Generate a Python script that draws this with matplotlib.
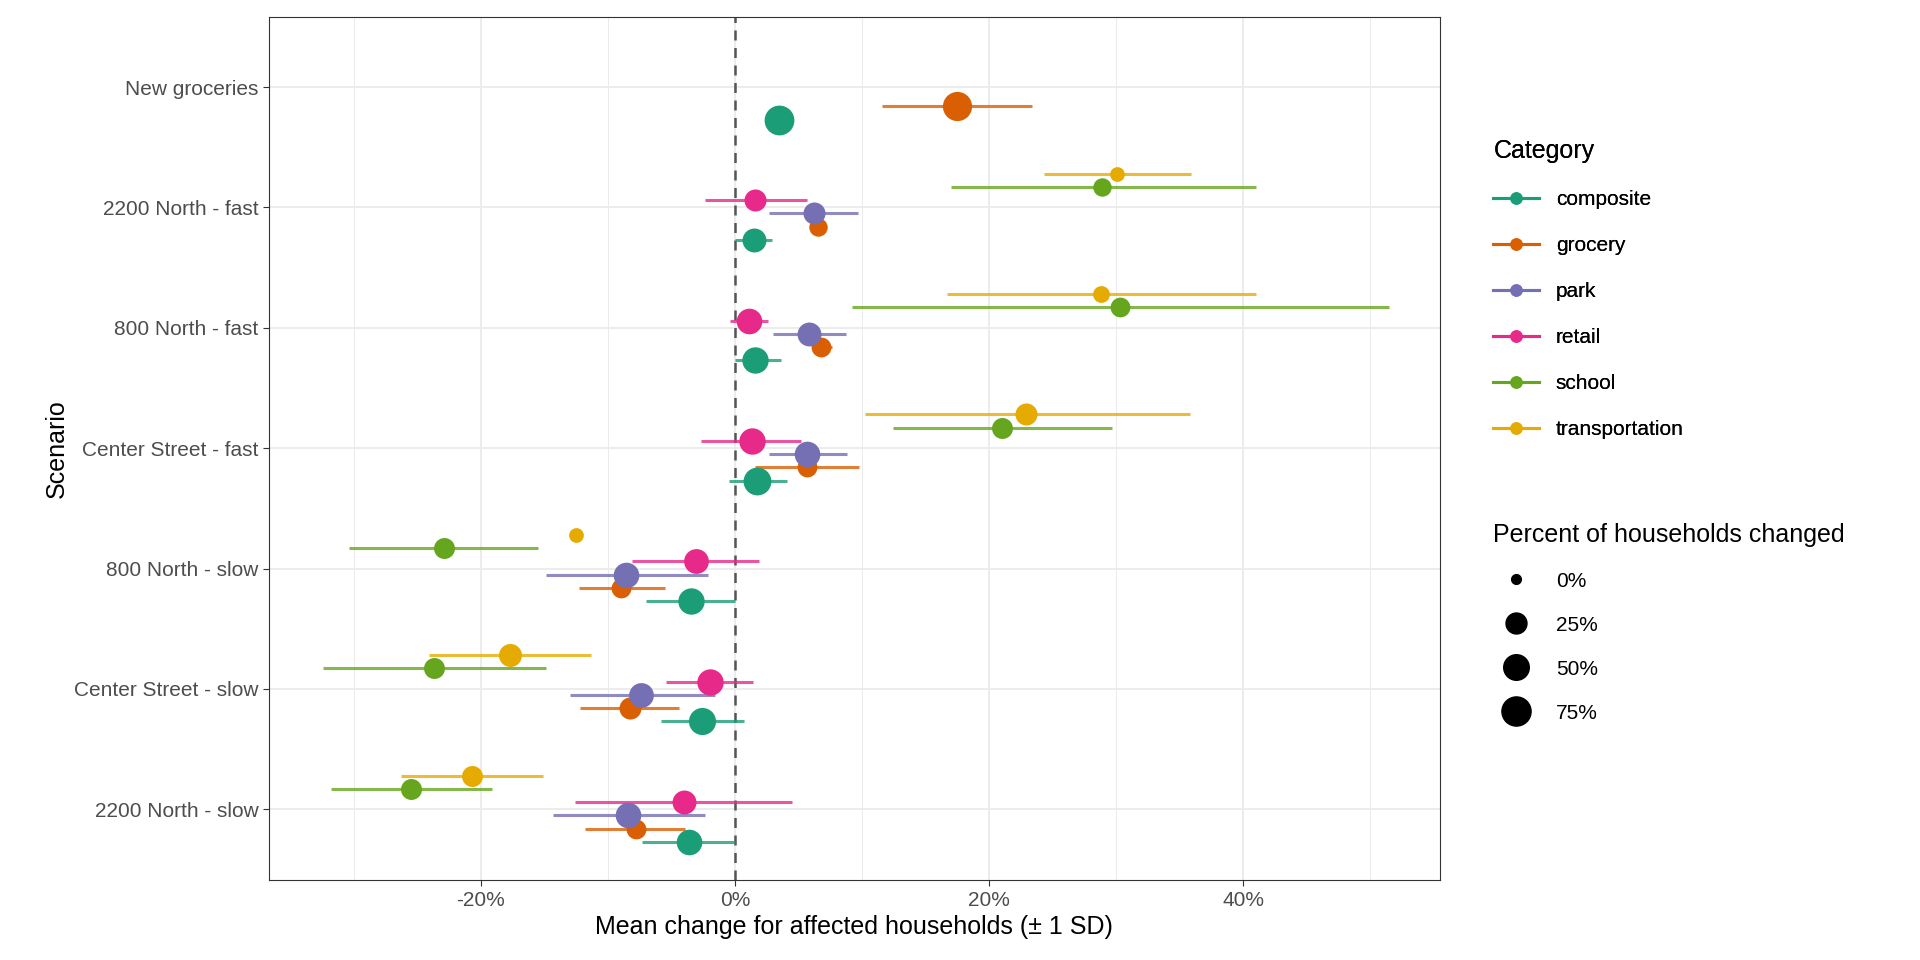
import numpy as np
import matplotlib
matplotlib.use("Agg")
import matplotlib.pyplot as plt
from matplotlib.lines import Line2D

plt.rcParams["font.family"] = ["Liberation Sans", "DejaVu Sans"]

scenarios = ["New groceries", "2200 North - fast", "800 North - fast", "Center Street - fast",
             "800 North - slow", "Center Street - slow", "2200 North - slow"]
categories = ["composite", "grocery", "park", "retail", "school", "transportation"]
colors = ["#1B9E77", "#D95F02", "#7570B3", "#E7298A", "#66A61E", "#E6AB02"]
offsets = [0.27, 0.16, 0.05, -0.06, -0.17, -0.28]

# per scenario: {category: (mean, low, high, pct changed)}; None = no SD bar
data = [
    {"composite": (3.5, None, None, 80), "grocery": (17.5, 11.6, 23.4, 75)},
    {"composite": (1.5, 0.0, 2.9, 40), "grocery": (6.5, None, None, 15), "park": (6.2, 2.7, 9.7, 30),
     "retail": (1.6, -2.4, 5.7, 30), "school": (28.9, 17.0, 41.0, 15), "transportation": (30.1, 24.3, 35.9, 5)},
    {"composite": (1.6, 0.0, 3.6, 55), "grocery": (6.8, 6.1, 7.6, 20), "park": (5.8, 3.0, 8.7, 40),
     "retail": (1.1, -0.4, 2.6, 50), "school": (30.3, 9.2, 51.5, 20), "transportation": (28.8, 16.7, 41.0, 10)},
    {"composite": (1.7, -0.5, 4.1, 65), "grocery": (5.7, 1.6, 9.8, 20), "park": (5.7, 2.7, 8.8, 50),
     "retail": (1.3, -2.7, 5.2, 55), "school": (21.0, 12.4, 29.7, 25), "transportation": (22.9, 10.2, 35.8, 30)},
    {"composite": (-3.5, -7.0, 0.0, 55), "grocery": (-9.0, -12.3, -5.5, 20), "park": (-8.6, -14.9, -2.1, 50),
     "retail": (-3.1, -8.1, 1.9, 45), "school": (-22.9, -30.4, -15.5, 25), "transportation": (-12.5, None, None, 5)},
    {"composite": (-2.6, -5.8, 0.7, 60), "grocery": (-8.3, -12.2, -4.4, 30), "park": (-7.4, -13.0, -1.6, 45),
     "retail": (-2.0, -5.4, 1.4, 55), "school": (-23.7, -32.4, -14.9, 25), "transportation": (-17.7, -24.1, -11.3, 35)},
    {"composite": (-3.6, -7.3, 0.0, 50), "grocery": (-7.8, -11.8, -3.9, 20), "park": (-8.4, -14.3, -2.4, 50),
     "retail": (-4.0, -12.6, 4.5, 40), "school": (-25.5, -31.8, -19.1, 25), "transportation": (-20.7, -26.3, -15.1, 25)},
]
size_breaks = [0, 25, 50, 75]


def msize(p):
    d = 7 + 14 * np.sqrt(max(p, 0) / 75)
    return d


fig = plt.figure(figsize=(19.2, 9.6), dpi=100)
ax = fig.add_axes([0.14, 0.083, 0.61, 0.899])

for i, row in enumerate(data):
    for c, col, off in zip(categories, colors, offsets):
        if c not in row:
            continue
        m, lo, hi, p = row[c]
        y = i + off
        if lo is not None:
            ax.plot([lo, hi], [y, y], color=col, alpha=0.8, lw=2.2, solid_capstyle="butt", zorder=2)
        ax.plot([m], [y], "o", color=col, ms=msize(p), mec="none", zorder=3)

ax.axvline(0, color="#555555", ls=(0, (4, 3)), lw=1.8, zorder=1)
ax.set_xlim(-36.7, 55.5)
ax.set_ylim(len(scenarios) - 1 + 0.59, -0.58)
ax.set_yticks(range(len(scenarios)))
ax.set_yticklabels(scenarios)
ax.set_xticks([-20, 0, 20, 40])
ax.set_xticklabels(["-20%", "0%", "20%", "40%"])
ax.set_xticks([-30, -10, 10, 30, 50], minor=True)
ax.grid(True, which="major", color="#EBEBEB", lw=1.3)
ax.grid(True, which="minor", axis="x", color="#EBEBEB", lw=0.7)
ax.set_axisbelow(True)
ax.tick_params(which="major", length=4, color="#333333", labelsize=15, labelcolor="#4D4D4D")
ax.tick_params(which="minor", length=0)
for s in ax.spines.values():
    s.set_color("#333333")
ax.set_xlabel("Mean change for affected households (± 1 SD)", fontsize=18)
ax.set_ylabel("Scenario", fontsize=18)

h1 = [Line2D([0], [0], color=col, lw=2.2, marker="o", ms=9, mec="none") for col in colors]
leg1 = fig.legend(h1, categories, title="Category", loc="upper left", bbox_to_anchor=(0.768, 0.875),
                  frameon=False, fontsize=15, title_fontsize=18, handlelength=2.2, labelspacing=1.3,
                  alignment="left")
fig.add_artist(leg1)
h2 = [Line2D([0], [0], ls="none", marker="o", color="black", ms=msize(p)) for p in size_breaks]
fig.legend(h2, [f"{p}%" for p in size_breaks], title="Percent of households changed", loc="upper left",
           bbox_to_anchor=(0.768, 0.475), frameon=False, fontsize=15, title_fontsize=18,
           handlelength=2.2, labelspacing=1.2, alignment="left")

fig.savefig("out.png", dpi=100)
